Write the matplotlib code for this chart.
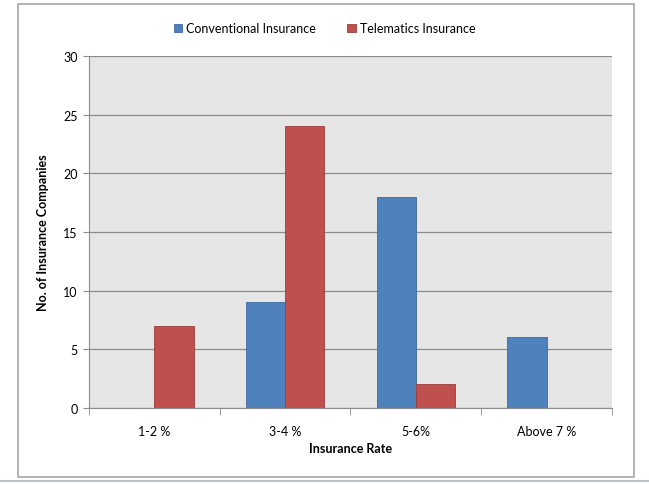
import numpy as np
import matplotlib.pyplot as plt
from matplotlib.patches import Rectangle
from matplotlib.lines import Line2D

categories = ['1-2 %', '3-4 %', '5-6%', 'Above 7 %']
conventional = [0, 9, 18, 6]
telematics = [7, 24, 2, 0]
yticks = [0, 5, 10, 15, 20, 25, 30]

plt.rcParams['font.family'] = ['Lato', 'DejaVu Sans']

fig = plt.figure(figsize=(6.49, 4.85), dpi=100)
ax = fig.add_axes([0.137, 0.157, 0.806, 0.7258])

# outer chart border
fig.patches.append(Rectangle((18 / 649, 1 - 478 / 485), 616 / 649, 473 / 485,
                             transform=fig.transFigure, fill=False,
                             edgecolor='#a6a6a6', linewidth=1.2))
fig.lines.append(Line2D([0, 1], [1 - 482 / 485] * 2, transform=fig.transFigure,
                        color='#b8c4cc', linewidth=1.5))

x = np.arange(len(categories))
w = 0.3
ax.bar(x - w / 2, conventional, w, color='#4f81bd', edgecolor='#3d6a9e',
       linewidth=0.6, label='Conventional Insurance', zorder=3)
ax.bar(x + w / 2, telematics, w, color='#c0504d', edgecolor='#9c3d3a',
       linewidth=0.6, label='Telematics Insurance', zorder=3)

ax.set_facecolor('#e6e6e6')
ax.set_xlim(-0.5, len(categories) - 0.5)
ax.set_ylim(0, 30)
ax.set_yticks(yticks)
ax.grid(axis='y', color='#8c8c8c', linewidth=0.9, zorder=1)
ax.set_xticks(x)
ax.set_xticklabels(categories, fontsize=9)
ax.tick_params(axis='x', length=0, pad=12)
ax.set_xticks(np.arange(-0.5, len(categories)), minor=True)
ax.tick_params(axis='x', which='minor', length=5, color='#8c8c8c')
ax.tick_params(axis='y', labelsize=9, length=4, color='#8c8c8c', pad=4)

for s in ['top', 'right']:
    ax.spines[s].set_visible(False)
for s in ['left', 'bottom']:
    ax.spines[s].set_color('#8c8c8c')

ax.set_xlabel('Insurance Rate', fontsize=9, fontweight='bold', labelpad=4)
ax.set_ylabel('No. of Insurance Companies', fontsize=9, fontweight='bold', labelpad=10)

fig.legend(loc='upper center', bbox_to_anchor=(0.5, 0.975), ncol=2, frameon=False,
           fontsize=9, handlelength=0.7, handleheight=0.7, columnspacing=2.5,
           handletextpad=0.3)

fig.savefig('out.png', dpi=100)
